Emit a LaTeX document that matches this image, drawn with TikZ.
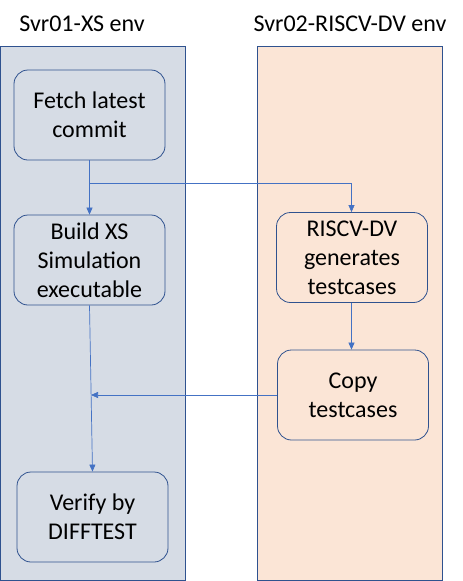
\documentclass[tikz,border=0pt]{standalone}
\usepackage{fontspec}
\setmainfont{Carlito}
\usetikzlibrary{arrows.meta}
\definecolor{lanel}{HTML}{D6DCE5}
\definecolor{laner}{HTML}{FBE5D6}
\definecolor{edgeb}{HTML}{2F528F}
\definecolor{conn}{HTML}{4472C4}
\tikzset{
  lane/.style={draw=edgeb, line width=1pt},
  proc/.style={draw=edgeb, line width=0.8pt, rounded corners=14pt, minimum width=151pt, minimum height=90pt, align=center, font=\fontsize{24}{29}\selectfont, inner sep=0pt},
  title/.style={font=\fontsize{24}{28}\selectfont, inner sep=0pt},
  flow/.style={draw=conn, line width=0.7pt, -{Triangle[length=7pt,width=6pt]}},
  flowline/.style={draw=conn, line width=0.7pt}
}
\begin{document}
\begin{tikzpicture}[x=1pt,y=-1pt]
\useasboundingbox (0,0) rectangle (463,581);
\path[lane, fill=lanel] (0.5,46) rectangle (185,580);
\path[lane, fill=laner] (257,46) rectangle (442,580);
\node[title] (t1) at (82,24) {Svr01-XS env};
\node[title] (t2) at (350,24) {Svr02-RISCV-DV env};
\node[proc, fill=lanel] (fetch) at (89.5,115) {Fetch latest\\commit};
\node[proc, fill=lanel] (build) at (89.5,260) {Build XS\\Simulation\\executable};
\node[proc, fill=lanel] (verify) at (92.5,517) {Verify by\\DIFFTEST};
\node[proc, fill=laner] (gen) at (352,257.5) {RISCV-DV\\generates\\testcases};
\node[proc, fill=laner] (copy) at (353,395) {Copy\\testcases};
\coordinate (split) at (89.5,183);
\coordinate (split2) at (351.5,183);
\coordinate (merge) at (91,395);
\draw[flow] (fetch.south) -- (build.north);
\draw[flow] (split) -- (split2) -- (gen.north -| split2);
\draw[flow] (gen.south -| split2) -- (copy.north -| split2);
\draw[flow] (build.south) -- (verify.north);
\draw[flow] (copy.west) -- (merge);
\end{tikzpicture}
\end{document}
